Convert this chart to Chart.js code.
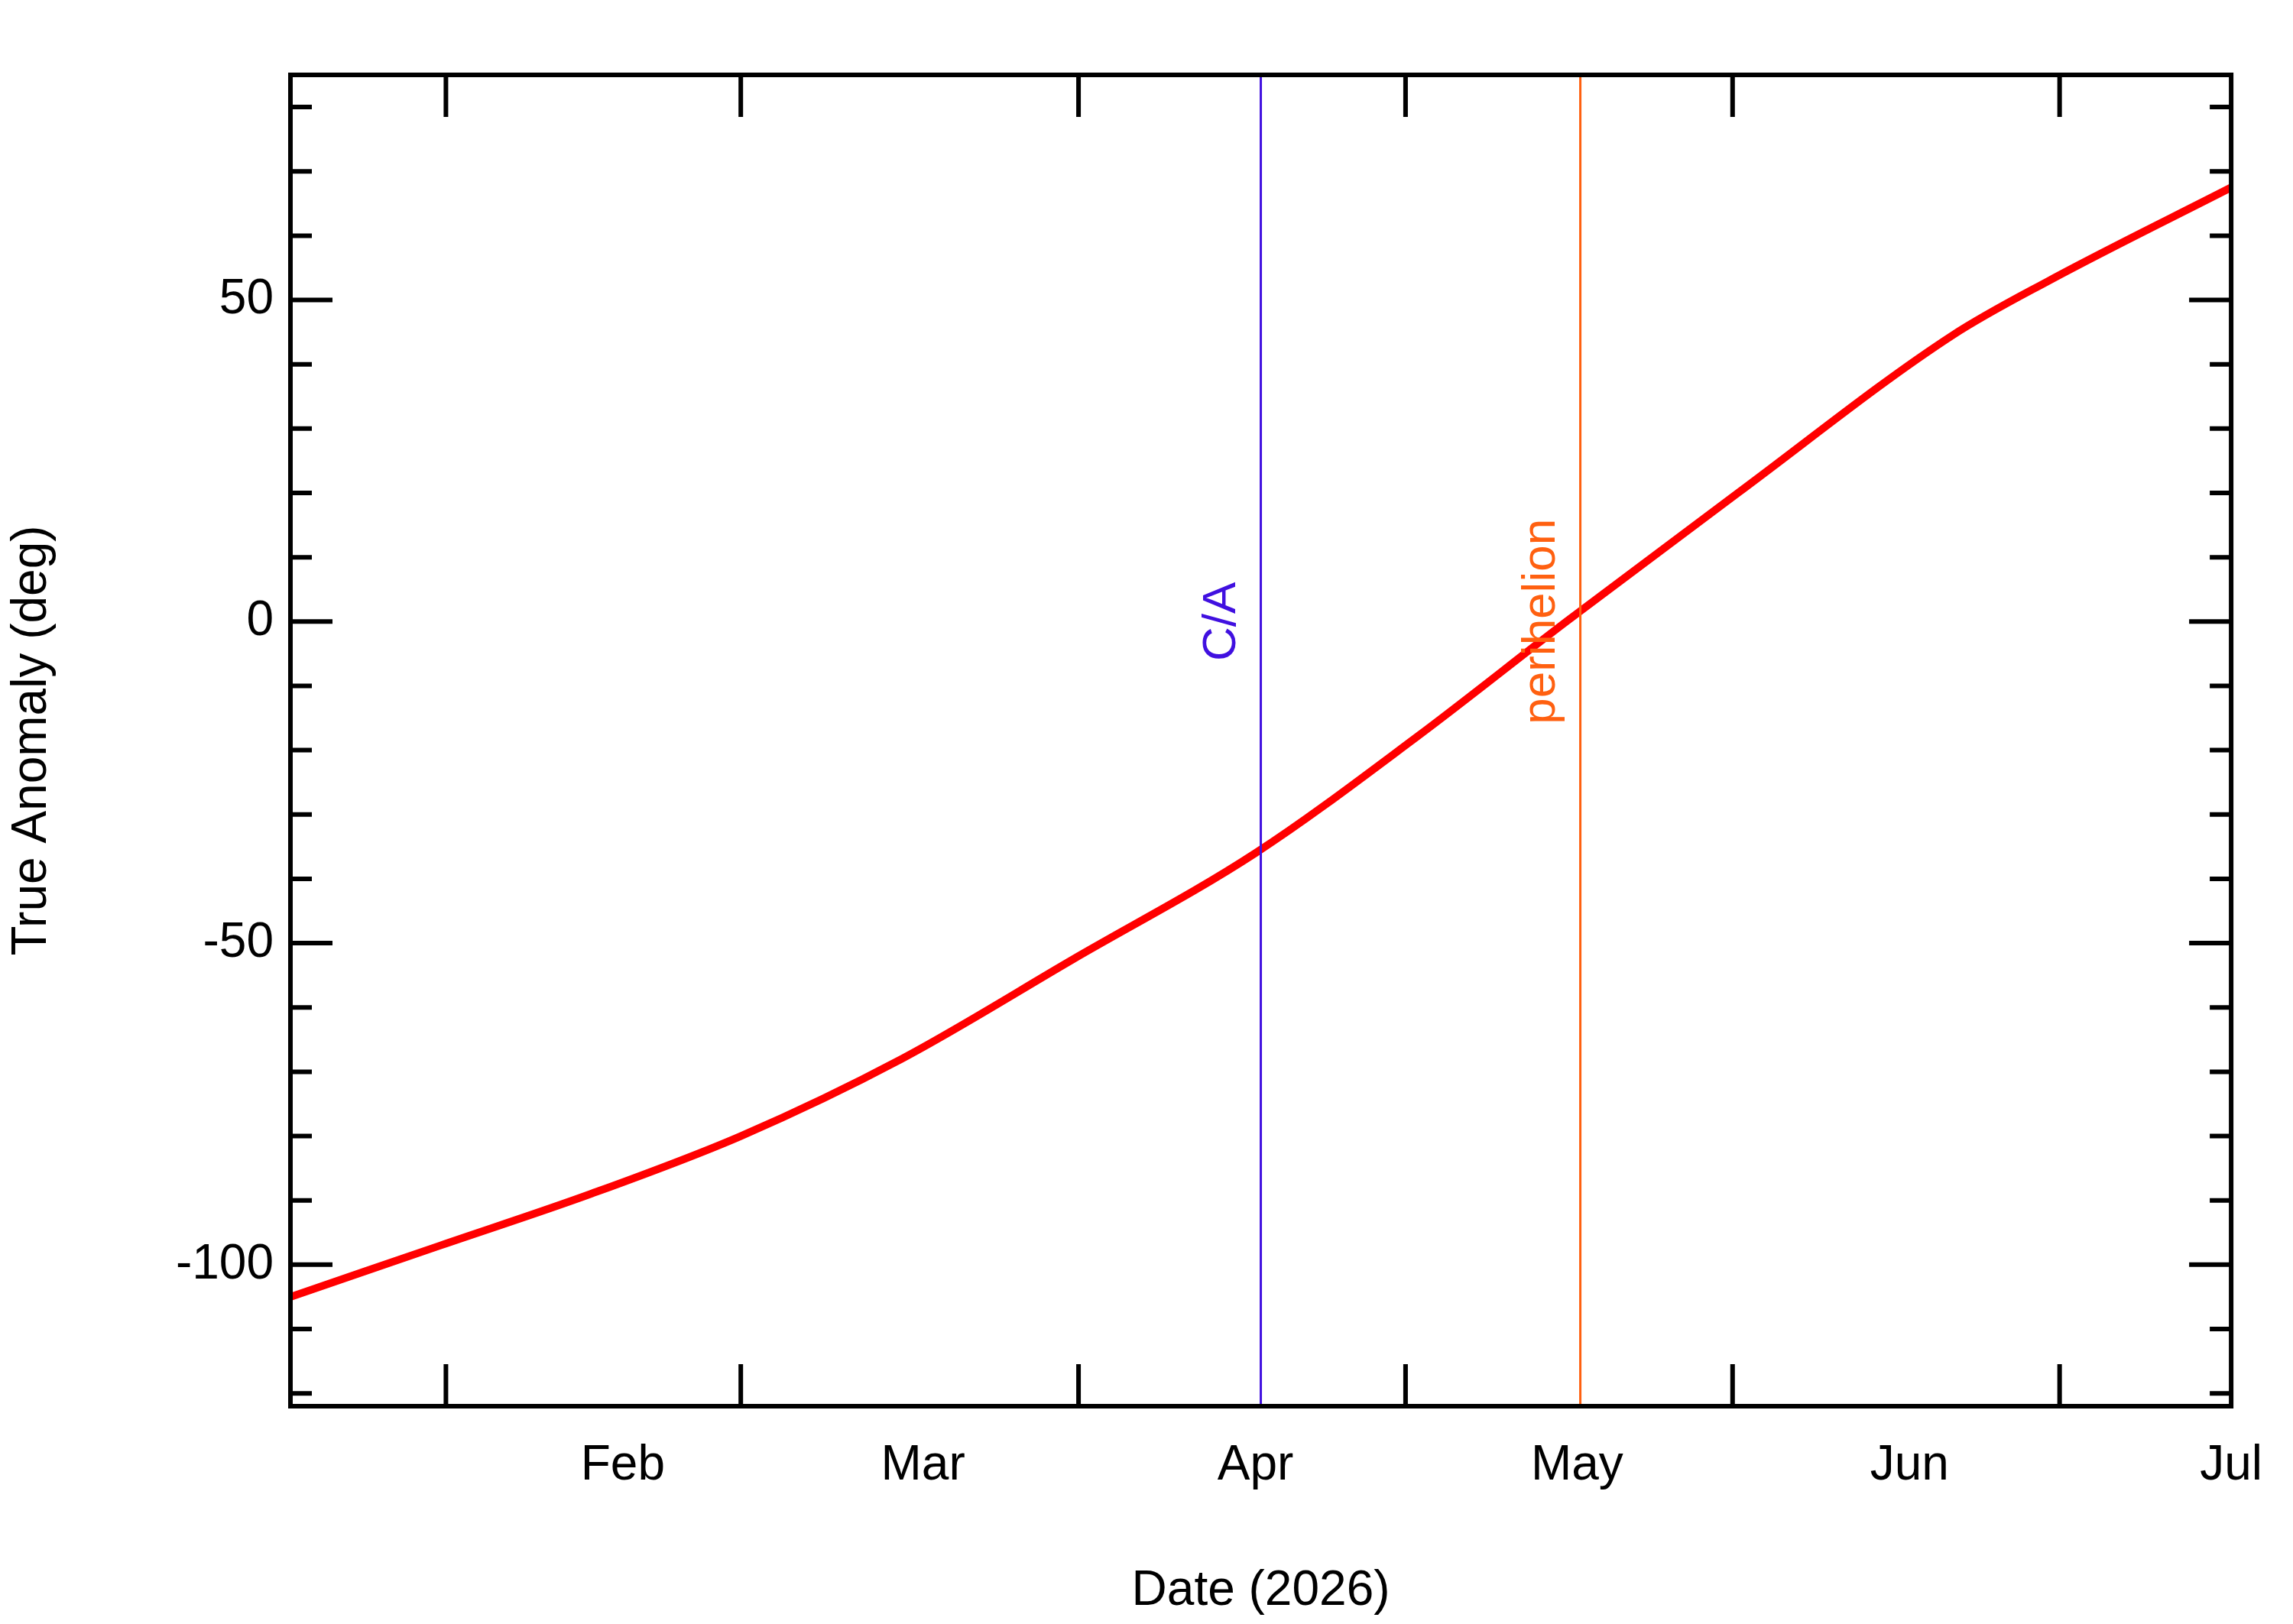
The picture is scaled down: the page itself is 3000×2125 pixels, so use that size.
<!DOCTYPE html>
<html>
<head>
<meta charset="utf-8">
<script src="https://cdn.jsdelivr.net/npm/chart.js@4.4.1/dist/chart.umd.min.js"></script>
<style>
  html, body { margin: 0; padding: 0; background: #fff; }
  #wrap { width: 3000px; height: 2125px; }
</style>
</head>
<body>
<div id="wrap"><canvas id="anomalyChart" width="3000" height="2125"></canvas></div>
<script>
// days since 2026-01-01 and true anomaly (deg)
const days = [0, 14, 28, 42, 57, 73, 90, 105, 119, 135, 155, 164, 181];
const anomaly = [-105, -97, -89, -80, -68, -52.5, -36, -18, 0, 20, 44.5, 53, 67.5];

const monthTicks = [31, 59, 90, 120, 151, 181];
const monthLabels = ['Feb', 'Mar', 'Apr', 'May', 'Jun', 'Jul'];
const midMonthTicks = [14.5, 42, 73.5, 104, 134.5, 165];

const events = [
    { day: 90.5, label: 'C/A', color: '#4010e0', dx: -50 },
    { day: 120.3, label: 'perihelion', color: '#ff6010', dx: -50 }
];

const FONT = '"Liberation Sans", Arial, sans-serif';

const framePlugin = {
    id: 'frame',
    afterDatasetsDraw(chart) {
        const { ctx, chartArea: a, scales: { x, y } } = chart;
        ctx.save();
        // event lines
        events.forEach(ev => {
            const px = x.getPixelForValue(ev.day);
            ctx.strokeStyle = ev.color;
            ctx.lineWidth = 3;
            ctx.beginPath();
            ctx.moveTo(px, a.top);
            ctx.lineTo(px, a.bottom);
            ctx.stroke();
            ctx.save();
            ctx.translate(px + ev.dx, y.getPixelForValue(0));
            ctx.rotate(-Math.PI / 2);
            ctx.fillStyle = ev.color;
            ctx.font = '62px ' + FONT;
            ctx.textAlign = 'center';
            ctx.textBaseline = 'bottom';
            ctx.fillText(ev.label, 0, 30);
            ctx.restore();
        });
        // frame
        ctx.strokeStyle = '#000';
        ctx.lineWidth = 6;
        ctx.strokeRect(a.left, a.top, a.right - a.left, a.bottom - a.top);
        // x ticks (top and bottom)
        ctx.lineWidth = 6;
        midMonthTicks.forEach(d => {
            const px = x.getPixelForValue(d);
            ctx.beginPath();
            ctx.moveTo(px, a.bottom); ctx.lineTo(px, a.bottom - 55);
            ctx.moveTo(px, a.top); ctx.lineTo(px, a.top + 55);
            ctx.stroke();
        });
        // y ticks (left and right)
        for (let v = -120; v <= 80; v += 10) {
            const py = y.getPixelForValue(v);
            const len = v % 50 === 0 ? 55 : 28;
            ctx.beginPath();
            ctx.moveTo(a.left, py); ctx.lineTo(a.left + len, py);
            ctx.moveTo(a.right, py); ctx.lineTo(a.right - len, py);
            ctx.stroke();
        }
        ctx.restore();
    }
};

new Chart(document.getElementById('anomalyChart'), {
    type: 'line',
    data: {
        datasets: [{
            data: days.map((d, i) => ({ x: d, y: anomaly[i] })),
            borderColor: '#ff0000',
            borderWidth: 10,
            pointRadius: 0,
            cubicInterpolationMode: 'monotone',
            fill: false
        }]
    },
    plugins: [framePlugin],
    options: {
        responsive: false,
        animation: false,
        layout: { padding: { top: 98, right: 71, left: 0, bottom: 0 } },
        plugins: { legend: { display: false }, tooltip: { enabled: false } },
        scales: {
            x: {
                type: 'linear',
                min: 0,
                max: 181,
                afterBuildTicks: scale => { scale.ticks = monthTicks.map(v => ({ value: v })); },
                afterFit: scale => { scale.height = 285; },
                grid: { display: false, drawTicks: false },
                border: { display: false },
                ticks: {
                    autoSkip: false,
                    maxRotation: 0,
                    padding: 40,
                    color: '#000',
                    font: { family: FONT, size: 64 },
                    callback: v => monthLabels[monthTicks.indexOf(v)]
                },
                title: {
                    display: true,
                    text: 'Date (2026)',
                    color: '#000',
                    font: { family: FONT, size: 64 },
                    padding: { top: 10 }
                }
            },
            y: {
                min: -122,
                max: 85,
                afterBuildTicks: scale => { scale.ticks = [-100, -50, 0, 50].map(v => ({ value: v })); },
                afterFit: scale => { scale.width = 380; },
                grid: { display: false, drawTicks: false },
                border: { display: false },
                ticks: {
                    padding: 22,
                    color: '#000',
                    font: { family: FONT, size: 64 }
                },
                title: {
                    display: true,
                    text: 'True Anomaly (deg)',
                    color: '#000',
                    font: { family: FONT, size: 64 },
                    padding: { bottom: 10 }
                }
            }
        }
    }
});
</script>
</body>
</html>
